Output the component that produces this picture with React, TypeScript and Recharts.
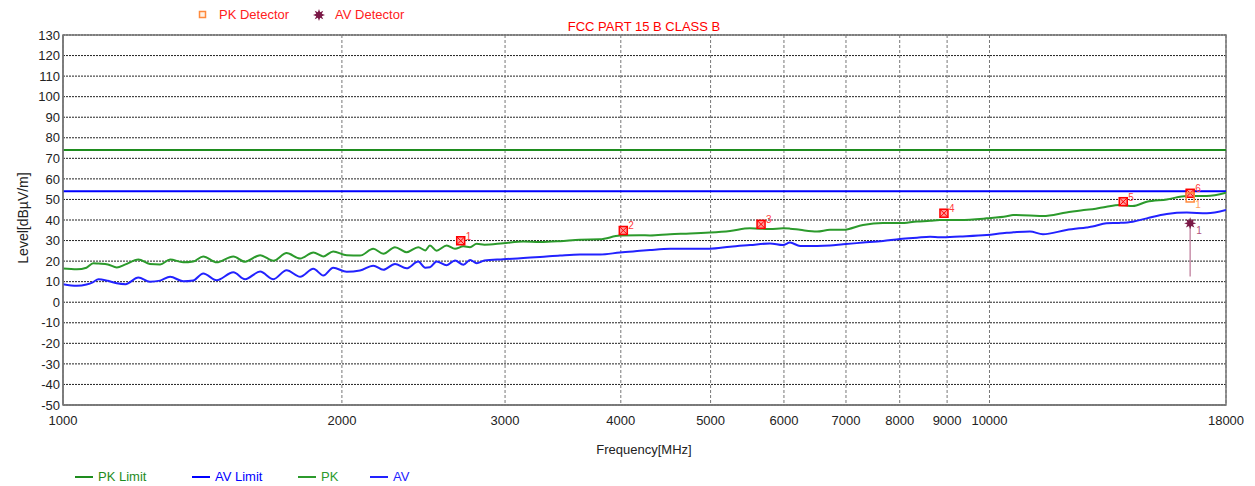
import { ComposedChart, Line, Scatter, XAxis, YAxis, CartesianGrid, ReferenceArea, ReferenceLine } from 'recharts'

// sweep readings (MHz / dBµV/m)
const freqs = [
  1000, 1035, 1060, 1078, 1092, 1118, 1143, 1168, 1206, 1241, 1273, 1305, 1348, 1382, 1417, 1465,
  1527, 1572, 1632, 1687, 1743, 1803, 1863, 1910, 1957, 2024, 2092, 2162, 2217, 2282, 2349, 2418,
  2460, 2489, 2531, 2595, 2649, 2705, 2750, 2796, 2850, 2987, 3139, 3272, 3439, 3614, 3798, 3992,
  4196, 4301, 4521, 4751, 4993, 5248, 5514, 5797, 5985, 6091, 6245, 6514, 6727, 6950, 7303, 7675,
  8006, 8352, 8627, 8842, 9294, 9931, 10437, 10603, 11058, 11420, 12106, 12723, 12915, 13375, 13822,
  14276, 14782, 15537, 16331, 17163, 18000,
]
const pkLevels = [
  16.4, 16.0, 16.8, 19.0, 18.8, 18.4, 16.9, 18.4, 20.8, 18.6, 18.4, 20.8, 19.4, 19.8, 22.3, 19.4,
  22.3, 19.7, 22.9, 20.2, 23.9, 21.3, 24.2, 22.3, 24.7, 22.8, 22.7, 26.0, 23.6, 26.8, 24.3, 26.8,
  25.2, 27.6, 25.1, 27.6, 26.0, 27.2, 26.8, 28.4, 28.0, 28.7, 29.5, 29.3, 29.7, 30.4, 30.6, 32.4,
  32.6, 32.5, 33.1, 33.4, 33.9, 34.7, 36.0, 35.6, 36.0, 35.8, 35.2, 34.4, 35.2, 35.2, 37.6, 38.5,
  38.5, 39.3, 39.6, 40.0, 40.0, 40.8, 41.8, 42.4, 42.2, 41.9, 43.6, 45.0, 45.2, 46.5, 47.3,
  46.8, 48.9, 50.0, 51.7, 51.7, 53.3,
]
const avLevels = [
  8.8, 8.0, 8.6, 9.8, 11.2, 10.4, 9.2, 8.8, 12.0, 10.0, 10.5, 12.4, 10.2, 10.6, 14.0, 10.7,
  14.6, 11.2, 14.9, 11.2, 15.6, 12.4, 16.3, 13.0, 16.8, 14.8, 15.4, 17.8, 15.8, 18.6, 16.5, 19.8,
  16.8, 17.0, 19.8, 18.0, 20.3, 18.2, 20.6, 19.0, 20.3, 20.9, 21.5, 22.0, 22.7, 23.2, 23.2, 24.2,
  25.0, 25.4, 26.0, 26.0, 26.0, 27.0, 27.8, 28.6, 27.8, 29.0, 27.4, 27.4, 27.6, 28.2, 29.0, 29.8,
  30.8, 31.4, 31.8, 31.6, 32.0, 32.7, 33.8, 34.0, 34.4, 33.1, 35.1, 36.4, 36.8, 38.4, 38.6,
  39.2, 40.8, 42.9, 43.6, 43.3, 44.9,
]

const limitFreqs = [1000, 18000]
const pkLimit = [74, 74]
const avLimit = [54, 54]

// peak markers
const markerIds = ['1', '2', '3', '4', '5', '6']
const markerFreqs = [2687, 4025, 5668, 8930, 13944, 16466]
const markerLevels = [29.9, 34.9, 37.9, 43.3, 48.9, 53.0]

// final detector readings
const detFreqs = [16466]
const pkDetLevels = [51.2]
const avDetLevels = [38.4]
const avDetFloor = 12.5

const xTicks = [1000, 2000, 3000, 4000, 5000, 6000, 7000, 8000, 9000, 10000, 18000]
const yTicks = [-50, -40, -30, -20, -10, 0, 10, 20, 30, 40, 50, 60, 70, 80, 90, 100, 110, 120, 130]

const PK_LIMIT = '#1e8c1e'
const PK_COLOR = '#2c9a2c'
const AV_LIMIT = '#0000ff'
const AV_COLOR = '#2222ff'
const FONT = '"Liberation Sans", Arial, sans-serif'

const toData = (xs: number[], ys: number[]) => xs.map((f, i) => ({ freq: f, level: ys[i] }))

const pkData = toData(freqs, pkLevels)
const avData = toData(freqs, avLevels)
const pkLimitData = toData(limitFreqs, pkLimit)
const avLimitData = toData(limitFreqs, avLimit)
const markerData = markerFreqs.map((f, i) => ({ freq: f, level: markerLevels[i], id: markerIds[i] }))
const pkDetData = toData(detFreqs, pkDetLevels)
const avDetData = toData(detFreqs, avDetLevels)

function starPoints(cx: number, cy: number, ro: number, ri: number, n = 8) {
  const pts: string[] = []
  for (let i = 0; i < n * 2; i++) {
    const r = i % 2 === 0 ? ro : ri
    const a = (Math.PI * i) / n - Math.PI / 2
    pts.push(`${cx + r * Math.cos(a)},${cy + r * Math.sin(a)}`)
  }
  return pts.join(' ')
}

const PeakMarker = (props: any) => {
  const { cx, cy, payload } = props
  return (
    <g>
      <rect x={cx - 4} y={cy - 4} width={8} height={8} fill="#ff9a9a" stroke="#ff0000" strokeWidth={1.5} />
      <line x1={cx - 4} y1={cy - 4} x2={cx + 4} y2={cy + 4} stroke="#ff0000" />
      <line x1={cx + 4} y1={cy - 4} x2={cx - 4} y2={cy + 4} stroke="#ff0000" />
      <text x={cx + 5} y={cy - 1} fontSize={10} fill="#ff3b3b" fontFamily={FONT}>{payload.id}</text>
    </g>
  )
}

const PkDetMarker = (props: any) => {
  const { cx, cy } = props
  return (
    <g>
      <rect x={cx - 4} y={cy - 4} width={8} height={9} fill="none" stroke="#ff8a3d" strokeWidth={1.5} />
      <text x={cx + 5} y={cy + 11} fontSize={10} fill="#ffa060" fontFamily={FONT}>1</text>
    </g>
  )
}

const AvDetMarker = (props: any) => {
  const { cx, cy } = props
  return (
    <g>
      <polygon points={starPoints(cx, cy, 6, 3)} fill="#7a1846" />
      <text x={cx + 6} y={cy + 11} fontSize={10} fill="#b0507a" fontFamily={FONT}>1</text>
    </g>
  )
}

const bottomLegend = [
  { name: 'PK Limit', color: PK_LIMIT, left: 75 },
  { name: 'AV Limit', color: AV_LIMIT, left: 192 },
  { name: 'PK', color: PK_COLOR, left: 298 },
  { name: 'AV', color: AV_COLOR, left: 370 },
]

export default function App() {
  const tickStyle = { fontSize: 13, fill: '#222', fontFamily: FONT }
  return (
    <div style={{ position: 'absolute', left: 0, top: 0, width: 1255, height: 486, background: '#fff', fontFamily: FONT }}>
      <ComposedChart width={1255} height={486} margin={{ top: 35, right: 29, left: 8, bottom: 51 }}>
        <CartesianGrid vertical={false} stroke="#222" strokeDasharray="2 1" />
        <CartesianGrid horizontal={false} stroke="#777" strokeDasharray="3 2" />
        <XAxis
          dataKey="freq"
          type="number"
          scale="log"
          domain={[1000, 18000]}
          allowDataOverflow
          ticks={xTicks}
          interval={0}
          tickLine={false}
          tickSize={0}
          tickMargin={11}
          height={30}
          axisLine={{ stroke: '#777', strokeWidth: 1.5 }}
          tick={tickStyle}
        />
        <YAxis
          type="number"
          domain={[-50, 130]}
          allowDataOverflow
          ticks={yTicks}
          interval={0}
          tickLine={false}
          tickSize={0}
          tickMargin={3}
          width={55}
          axisLine={{ stroke: '#777', strokeWidth: 1.5 }}
          tick={tickStyle}
        />
        <ReferenceArea x1={1000} x2={18000} y1={-50} y2={130} fill="none" stroke="#777" strokeWidth={1.5} ifOverflow="visible" />
        <Line data={pkLimitData} dataKey="level" stroke={PK_LIMIT} strokeWidth={2} dot={false} isAnimationActive={false} />
        <Line data={avLimitData} dataKey="level" stroke={AV_LIMIT} strokeWidth={2} dot={false} isAnimationActive={false} />
        <Line data={pkData} type="monotone" dataKey="level" stroke={PK_COLOR} strokeWidth={2} dot={false} isAnimationActive={false} />
        <Line data={avData} type="monotone" dataKey="level" stroke={AV_COLOR} strokeWidth={2} dot={false} isAnimationActive={false} />
        <ReferenceLine
          segment={[{ x: detFreqs[0], y: avDetLevels[0] }, { x: detFreqs[0], y: avDetFloor }]}
          stroke="#c890aa"
          strokeWidth={1.5}
        />
        <Scatter data={markerData} dataKey="level" shape={PeakMarker} isAnimationActive={false} />
        <Scatter data={pkDetData} dataKey="level" shape={PkDetMarker} isAnimationActive={false} />
        <Scatter data={avDetData} dataKey="level" shape={AvDetMarker} isAnimationActive={false} />
      </ComposedChart>

      {/* detector legend */}
      <div style={{ position: 'absolute', left: 198, top: 7, fontSize: 13, color: '#ff2020', display: 'flex', alignItems: 'center' }}>
        <svg width={10} height={10} style={{ marginRight: 11 }}>
          <rect x={1.5} y={1.5} width={6} height={6} fill="#fff2e6" stroke="#ff8a3d" strokeWidth={1.5} />
        </svg>
        <span>PK Detector</span>
        <svg width={14} height={14} style={{ marginLeft: 23, marginRight: 9 }}>
          <polygon points={starPoints(7, 7, 6, 3)} fill="#7a1846" />
        </svg>
        <span>AV Detector</span>
      </div>

      <div style={{ position: 'absolute', left: 0, width: 1288, top: 19, textAlign: 'center', fontSize: 13, color: '#ff0000' }}>
        FCC PART 15 B CLASS B
      </div>

      <div
        style={{
          position: 'absolute',
          left: 23,
          top: 218,
          transform: 'translate(-50%, -50%) rotate(-90deg)',
          fontSize: 14,
          color: '#222',
          whiteSpace: 'nowrap',
        }}
      >
        Level[dBµV/m]
      </div>

      <div style={{ position: 'absolute', left: 0, width: 1288, top: 442, textAlign: 'center', fontSize: 13, color: '#222' }}>
        Frequency[MHz]
      </div>

      {bottomLegend.map((item) => (
        <div
          key={item.name}
          style={{ position: 'absolute', left: item.left, top: 469, display: 'flex', alignItems: 'center', fontSize: 13, color: item.color }}
        >
          <span style={{ display: 'inline-block', width: 18, height: 2, background: item.color, marginRight: 5 }} />
          <span>{item.name}</span>
        </div>
      ))}
    </div>
  )
}
